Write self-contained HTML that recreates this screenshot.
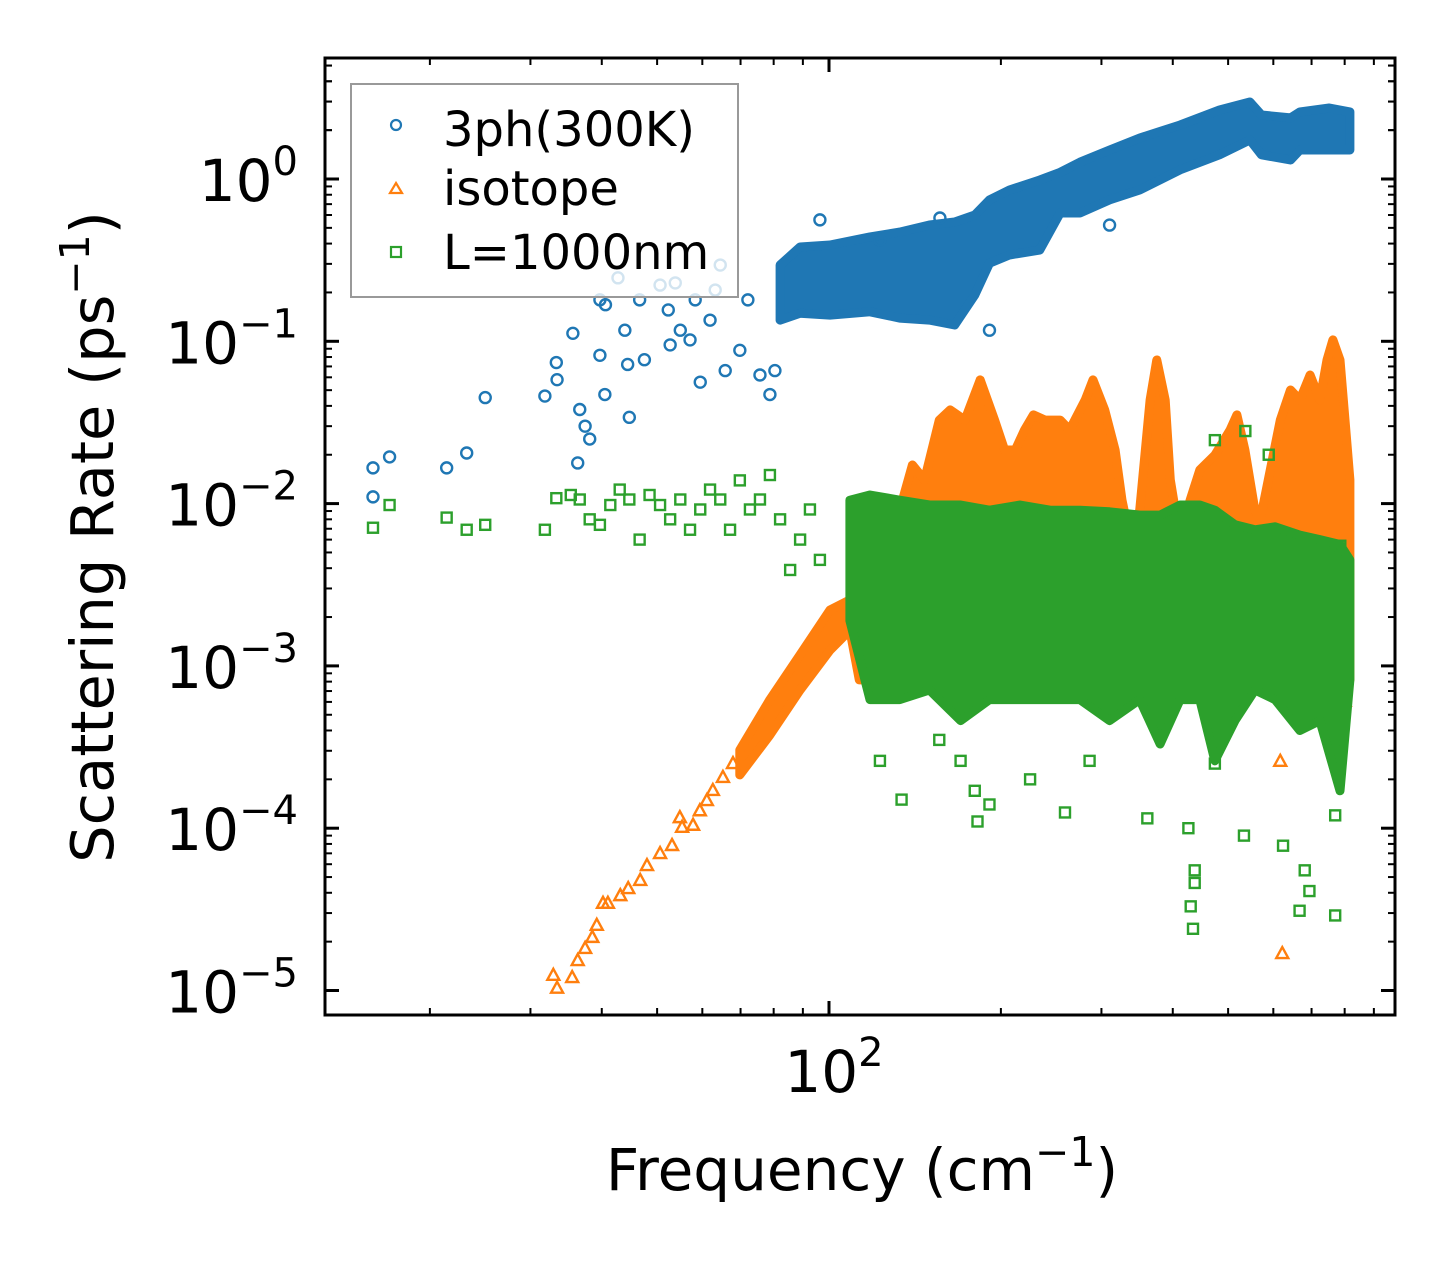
<!DOCTYPE html>
<html><head><meta charset="utf-8"><style>
html,body{margin:0;padding:0;background:#fff;}
svg{display:block;font-family:"DejaVu Sans","Liberation Sans",sans-serif;}
</style></head><body>
<svg id="chart" width="1455" height="1265" viewBox="0 0 1455 1265" xmlns="http://www.w3.org/2000/svg">
<rect width="1455" height="1265" fill="#fff"/>
<defs><clipPath id="plotclip"><rect x="325" y="58" width="1070" height="957"/></clipPath></defs>
<g id="series" clip-path="url(#plotclip)"></g>
<g id="axes"></g>
<g>
  <rect x="351" y="84" width="387" height="213" fill="#fff" fill-opacity="0.8" stroke="#999" stroke-width="2"/>
  <g>
    <circle cx="396" cy="125" r="5" fill="none" stroke="#1f77b4" stroke-width="2.2"/>
    <text x="443" y="146" font-size="48">3ph(300K)</text>
  </g>
  <g>
    <polygon points="396,183 402,193 390,193" fill="none" stroke="#ff7f0e" stroke-width="2.2"/>
    <text x="443" y="205" font-size="48">isotope</text>
  </g>
  <g>
    <rect x="391" y="247" width="10" height="10" fill="none" stroke="#2ca02c" stroke-width="2.2"/>
    <text x="443" y="269" font-size="48">L=1000nm</text>
  </g>
</g>
<text x="862" y="1190" font-size="58" text-anchor="middle">Frequency (cm<tspan font-size="41" dy="-24">−1</tspan><tspan dy="24">)</tspan></text>
<text transform="translate(113,537) rotate(-90)" font-size="59" text-anchor="middle">Scattering Rate (ps<tspan font-size="41" dy="-24">−1</tspan><tspan dy="24">)</tspan></text>
</svg>
<script>
// ---- data ----
const blueFreq = [15.9,15.9,17.0,21.4,23.2,25.0,31.8,33.3,33.4,35.6,36.3,36.6,37.4,38.1,39.7,40.6,39.7,40.5,42.7,43.9,44.4,44.7,46.6,47.5,50.6,52.3,52.7,53.8,54.9,57.1,58.3,59.5,61.9,63.2,64.5,65.8,69.8,72.1,75.7,78.8,80.4,96.4,122.8,156.4,310,191];
const blueRate = [0.0166,0.011,0.0194,0.0166,0.0205,0.045,0.046,0.074,0.058,0.112,0.0178,0.038,0.030,0.025,0.18,0.168,0.082,0.047,0.246,0.117,0.072,0.034,0.18,0.077,0.222,0.156,0.095,0.229,0.117,0.102,0.18,0.056,0.135,0.207,0.295,0.066,0.088,0.18,0.062,0.047,0.066,0.56,0.42,0.575,0.52,0.117];
const blueBandFreq = [82.1,89.0,100.4,118,133,150,166,180,191,207,234,254,275,310,350,412,483,546,572,643,668,752,817];
const blueBandHi = [0.295,0.381,0.392,0.44,0.471,0.521,0.543,0.60,0.743,0.855,0.986,1.10,1.27,1.51,1.79,2.15,2.66,2.98,2.48,2.38,2.59,2.74,2.59];
const blueBandLo = [0.135,0.149,0.145,0.152,0.139,0.135,0.126,0.193,0.303,0.34,0.365,0.617,0.617,0.743,0.855,1.14,1.41,1.74,1.41,1.31,1.51,1.51,1.51];

const orangeFreq = [32.9,33.4,35.5,36.3,37.4,38.5,39.2,40.2,41.0,43.1,44.5,46.7,48.0,50.6,53.1,54.8,55.3,57.8,59.4,61.1,62.6,65.2,67.9,622,617,800];
const orangeRate = [1.25e-5,1.04e-5,1.21e-5,1.54e-5,1.83e-5,2.14e-5,2.54e-5,3.47e-5,3.47e-5,3.87e-5,4.28e-5,4.80e-5,5.93e-5,7.03e-5,7.88e-5,1.17e-4,1.02e-4,1.05e-4,1.29e-4,1.49e-4,1.72e-4,2.07e-4,2.52e-4,1.7e-5,2.6e-4,6.1e-4];
const orangeBandFreq = [69.8,78.8,89.0,100.4,108.8,113,123,133,140,147,156,163,173,184,195,203,212,220,228,239,254,264,281,290,304,317,326,337,350,365,375,388,396,412,429,446,474,504,518,535,557,569,617,643,668,696,724,745,763,785,801,817];
const orangeBandHi = [3.03e-4,6.2e-4,1.17e-3,2.21e-3,2.55e-3,2.55e-3,4.5e-3,9.1e-3,0.0173,0.014,0.0327,0.0378,0.0327,0.0578,0.0327,0.0214,0.0214,0.0284,0.0352,0.0327,0.0327,0.0284,0.0435,0.0578,0.0378,0.0214,0.0105,0.0060,0.0091,0.0435,0.0767,0.0435,0.014,0.0060,0.0105,0.0161,0.0199,0.0284,0.0352,0.0214,0.0091,0.0079,0.0327,0.0501,0.0435,0.0620,0.0435,0.0767,0.102,0.0767,0.0327,0.014];
const orangeBandLo = [2.13e-4,3.75e-4,7.1e-4,1.25e-3,1.66e-3,8.2e-4,8.2e-4,8.2e-4,8.2e-4,8.2e-4,8.2e-4,8.2e-4,8.2e-4,8.2e-4,8.2e-4,8.2e-4,8.2e-4,8.2e-4,8.2e-4,8.2e-4,8.2e-4,8.2e-4,8.2e-4,8.2e-4,8.2e-4,8.2e-4,8.2e-4,8.2e-4,8.2e-4,8.2e-4,8.2e-4,8.2e-4,8.2e-4,8.2e-4,8.2e-4,8.2e-4,8.2e-4,8.2e-4,8.2e-4,8.2e-4,8.2e-4,8.2e-4,8.2e-4,8.2e-4,8.2e-4,8.2e-4,8.2e-4,8.2e-4,8.2e-4,8.2e-4,8.2e-4,8.2e-4];

const greenFreq = [15.9,17.0,21.4,23.2,25.0,31.8,33.3,35.3,36.6,38.1,39.7,41.4,43.0,44.7,46.6,48.5,50.6,52.7,54.9,57.1,59.5,61.9,64.5,67.1,69.8,72.7,75.7,78.8,82.1,85.5,89.0,92.6,96.4,122.8,134,156,170,180,182,191,225,259,286,361,426,437,437,430,434,474,533,624,667,681,694,770,770,474,536,589,786];
const greenRate = [0.0071,0.0098,0.0082,0.0069,0.0074,0.0069,0.0108,0.0113,0.0106,0.0080,0.0074,0.0098,0.0122,0.0106,0.0060,0.0113,0.0098,0.0080,0.0106,0.0069,0.0092,0.0122,0.0106,0.0069,0.0139,0.0092,0.0106,0.015,0.0080,0.0039,0.0060,0.0092,0.0045,2.6e-4,1.5e-4,3.5e-4,2.6e-4,1.7e-4,1.1e-4,1.4e-4,2.0e-4,1.25e-4,2.6e-4,1.15e-4,1.0e-4,5.5e-5,4.6e-5,3.3e-5,2.4e-5,2.5e-4,9e-5,7.8e-5,3.1e-5,5.5e-5,4.1e-5,2.9e-5,1.2e-4,0.0246,0.028,0.020,0.0055];
const greenBandFreq = [108.8,118,133,150,170,191,216,244,275,310,350,380,412,446,474,514,557,604,668,724,785,817];
const greenBandHi = [0.0105,0.0113,0.0105,0.0098,0.0098,0.0091,0.0098,0.0091,0.0091,0.0089,0.0085,0.0085,0.0098,0.0098,0.0091,0.0074,0.0069,0.0072,0.0064,0.0060,0.0056,0.0045];
const greenBandLo = [0.0019,0.00062,0.00062,0.00071,0.00046,0.00062,0.00062,0.00062,0.00062,0.00046,0.00062,0.00033,0.00062,0.00062,0.00026,0.00046,0.00071,0.00062,0.0004,0.00046,0.00017,0.00082];

const yTickExp = [0,-1,-2,-3,-4,-5];
const yTickLabels = ["0","−1","−2","−3","−4","−5"];
const xTickValues = [100];
const xTickLabels = ["2"];

// ---- axes ----
const X0 = 829, XD = 571, Y0 = 179, YD = 162.3;
const L = 325, R = 1395, T = 58, B = 1015;
function sx(f){ return X0 + (Math.log10(f) - 2) * XD; }
function sy(r){ return Y0 - Math.log10(r) * YD; }

const NS = "http://www.w3.org/2000/svg";
const series = document.getElementById('series');
const axes = document.getElementById('axes');
function mk(tag, attrs, parent){
  const e = document.createElementNS(NS, tag);
  for (const k in attrs) e.setAttribute(k, attrs[k]);
  parent.appendChild(e);
  return e;
}

function band(fr, hi, lo, color, name){
  let pts = [];
  for (let i = 0; i < fr.length; i++) pts.push(sx(fr[i]).toFixed(1) + ',' + sy(hi[i]).toFixed(1));
  for (let i = fr.length - 1; i >= 0; i--) pts.push(sx(fr[i]).toFixed(1) + ',' + sy(lo[i]).toFixed(1));
  const p = mk('polygon', {points: pts.join(' '), fill: color, stroke: color, 'stroke-width': 9, 'stroke-linejoin': 'round'}, series);
  
  
}
function circles(fr, rt, color, name){
  const g = mk('g', {}, series);
  
  
  for (let i = 0; i < fr.length; i++){
    mk('circle', {cx: sx(fr[i]), cy: sy(rt[i]), r: 5.5, fill: 'none', stroke: color, 'stroke-width': 2.4}, g);
  }
}
function tris(fr, rt, color, name){
  const g = mk('g', {}, series);
  
  
  for (let i = 0; i < fr.length; i++){
    const x = sx(fr[i]), y = sy(rt[i]);
    mk('polygon', {points: `${x},${y-6} ${x+6},${y+5} ${x-6},${y+5}`, fill: 'none', stroke: color, 'stroke-width': 2.4}, g);
  }
}
function squares(fr, rt, color, name){
  const g = mk('g', {}, series);
  
  
  for (let i = 0; i < fr.length; i++){
    mk('rect', {x: sx(fr[i]) - 5, y: sy(rt[i]) - 5, width: 10, height: 10, fill: 'none', stroke: color, 'stroke-width': 2.4}, g);
  }
}

band(blueBandFreq, blueBandHi, blueBandLo, '#1f77b4', 'series-3ph-dense');
circles(blueFreq, blueRate, '#1f77b4', 'series-3ph-points');
band(orangeBandFreq, orangeBandHi, orangeBandLo, '#ff7f0e', 'series-isotope-dense');
tris(orangeFreq, orangeRate, '#ff7f0e', 'series-isotope-points');
band(greenBandFreq, greenBandHi, greenBandLo, '#2ca02c', 'series-boundary-dense');
squares(greenFreq, greenRate, '#2ca02c', 'series-boundary-points');

// frame
const fr = mk('rect', {x: L, y: T, width: R - L, height: B - T, fill: 'none', stroke: '#000', 'stroke-width': 3}, axes);



// y ticks
for (let e = 0; e >= -5; e--){
  for (let m = 1; m <= 9; m++){
    const v = m * Math.pow(10, e);
    const y = sy(v);
    if (y < T || y > B) continue;
    const len = m === 1 ? 14 : 7;
    mk('line', {x1: L, x2: L + len, y1: y, y2: y, stroke: '#000', 'stroke-width': m === 1 ? 3 : 2}, axes);
    mk('line', {x1: R, x2: R - len, y1: y, y2: y, stroke: '#000', 'stroke-width': m === 1 ? 3 : 2}, axes);
  }
}
for (let m = 2; m <= 9; m++){
  const y = sy(m);
  if (y < T) continue;
  mk('line', {x1: L, x2: L + 7, y1: y, y2: y, stroke: '#000', 'stroke-width': 2}, axes);
  mk('line', {x1: R, x2: R - 7, y1: y, y2: y, stroke: '#000', 'stroke-width': 2}, axes);
}
for (let i = 0; i < yTickExp.length; i++){
  const y = sy(Math.pow(10, yTickExp[i]));
  const t = mk('text', {x: 298, y: y + 22, 'font-size': 58, 'text-anchor': 'end'}, axes);
  
  
  const a = document.createElementNS(NS, 'tspan'); a.textContent = '10'; t.appendChild(a);
  const b = document.createElementNS(NS, 'tspan');
  b.setAttribute('font-size', '40'); b.setAttribute('dy', '-26');
  b.textContent = yTickLabels[i]; t.appendChild(b);
}
// x ticks
for (let e = 1; e <= 2; e++){
  for (let m = 1; m <= 9; m++){
    const x = sx(m * Math.pow(10, e));
    if (x < L || x > R) continue;
    const len = m === 1 ? 14 : 7;
    mk('line', {x1: x, x2: x, y1: B, y2: B - len, stroke: '#000', 'stroke-width': m === 1 ? 3 : 2}, axes);
    mk('line', {x1: x, x2: x, y1: T, y2: T + len, stroke: '#000', 'stroke-width': m === 1 ? 3 : 2}, axes);
  }
}
for (let i = 0; i < xTickValues.length; i++){
  const x = sx(xTickValues[i]);
  const t = mk('text', {x: x + 5, y: 1092, 'font-size': 58, 'text-anchor': 'middle'}, axes);
  
  
  const a = document.createElementNS(NS, 'tspan'); a.textContent = '10'; t.appendChild(a);
  const b = document.createElementNS(NS, 'tspan');
  b.setAttribute('font-size', '40'); b.setAttribute('dy', '-26');
  b.textContent = xTickLabels[i]; t.appendChild(b);
}
</script>
</body></html>
